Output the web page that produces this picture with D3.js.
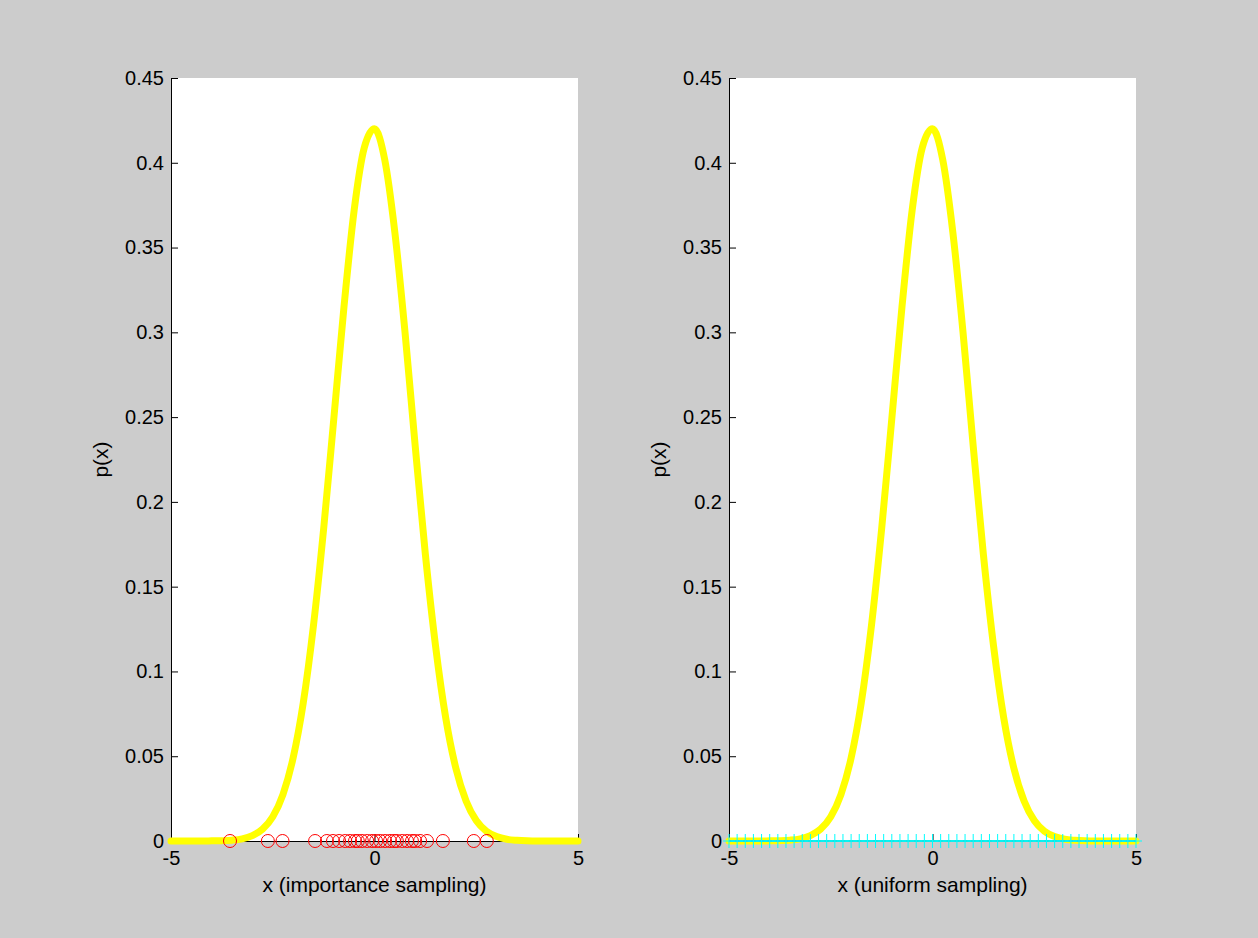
<!DOCTYPE html>
<html>
<head>
<meta charset="utf-8">
<script src="https://cdn.jsdelivr.net/npm/d3@7"></script>
<style>
  body { margin: 0; background: #cccccc; }
  text { font-family: "Liberation Sans", Arial, sans-serif; font-size: 20px; fill: #000; }
  .label { font-size: 21px; }
</style>
</head>
<body>
<div class="chart-area"></div>
<script>
// density curve
var curveX = [-5, -4.75, -4.5, -4.25, -4, -3.75, -3.5, -3.25, -3, -2.75, -2.5, -2.25, -2, -1.75, -1.5, -1.25, -1, -0.75, -0.5, -0.25,
              0, 0.25, 0.5, 0.75, 1, 1.25, 1.5, 1.75, 2, 2.25, 2.5, 2.75, 3, 3.25, 3.5, 3.75, 4, 4.25, 4.5, 4.75, 5];
var curveP = [0, 0, 0, 0, 0.0001, 0.0002, 0.0005, 0.0013, 0.0032, 0.0070, 0.0143, 0.0274, 0.0489, 0.0815, 0.127, 0.184, 0.249, 0.315, 0.372, 0.409,
              0.420, 0.402, 0.359, 0.300, 0.233, 0.169, 0.115, 0.0726, 0.0428, 0.0236, 0.0121, 0.0058, 0.0026, 0.0010, 0.0004, 0.0001, 0, 0, 0, 0, 0];

// samples
var importanceSamples = [-3.55, -2.62, -2.26, -1.46, -1.17, -1.02, -0.87, -0.72, -0.60, -0.48, -0.41, -0.31, -0.18, -0.06, 0.04,
                         0.14, 0.26, 0.38, 0.48, 0.55, 0.68, 0.80, 0.92, 1.00, 1.12, 1.29, 1.68, 2.44, 2.76];
var uniformSamples = [-5, -4.8, -4.6, -4.4, -4.2, -4, -3.8, -3.6, -3.4, -3.2, -3, -2.8, -2.6, -2.4, -2.2, -2, -1.8, -1.6, -1.4, -1.2,
                      -1, -0.8, -0.6, -0.4, -0.2, 0, 0.2, 0.4, 0.6, 0.8, 1, 1.2, 1.4, 1.6, 1.8, 2, 2.2, 2.4, 2.6, 2.8,
                      3, 3.2, 3.4, 3.6, 3.8, 4, 4.2, 4.4, 4.6, 4.8, 5];

var xTicks = [-5, 0, 5];
var yTicks = [0, 0.05, 0.1, 0.15, 0.2, 0.25, 0.3, 0.35, 0.4, 0.45];
var xLabels = ["x (importance sampling)", "x (uniform sampling)"];
var yLabel = "p(x)";

var width = 1258,
    height = 938,
    plotTop = 78,
    plotBottom = 841,
    plotWidth = 407,
    panelLefts = [171, 729];

var svg = d3.select(".chart-area")
            .append("svg")
            .attr("width", width)
            .attr("height", height);

svg.append("rect")
   .attr("width", width)
   .attr("height", height)
   .attr("fill", "#cccccc");

var curveData = curveX.map(function(d, i) { return [d, curveP[i]] });

function drawPanel(left, xLabel, drawSamples) {
  var x = d3.scaleLinear().domain([-5, 5]).range([left, left + plotWidth]),
      y = d3.scaleLinear().domain([0, 0.45]).range([plotBottom, plotTop]),
      g = svg.append("g");

  g.append("rect")
   .attr("x", x(-5))
   .attr("y", y(0.45))
   .attr("width", x(5) - x(-5))
   .attr("height", y(0) - y(0.45))
   .attr("fill", "#fff");

  var yAxis = g.append("g")
               .attr("transform", "translate(" + x(-5) + ",0)")
               .call(d3.axisLeft(y).tickValues(yTicks).tickFormat(String)
                       .tickSize(-7).tickSizeOuter(0).tickPadding(7));
  var xAxis = g.append("g")
               .attr("transform", "translate(0," + y(0) + ")")
               .call(d3.axisBottom(x).tickValues(xTicks).tickFormat(String)
                       .tickSize(-7).tickSizeOuter(0).tickPadding(10));

  [yAxis, xAxis].forEach(function(a) {
    a.attr("font-size", null).attr("font-family", null);
    a.select(".domain").attr("stroke", "#000");
    a.selectAll(".tick line").attr("stroke", "#000");
  });

  g.append("text")
   .attr("class", "label")
   .attr("x", x(0))
   .attr("y", 892)
   .attr("text-anchor", "middle")
   .text(xLabel);

  g.append("text")
   .attr("class", "label")
   .attr("transform", "translate(" + (x(-5) - 63) + "," + ((plotTop + plotBottom) / 2) + ") rotate(-90)")
   .attr("text-anchor", "middle")
   .text(yLabel);

  var line = d3.line()
               .x(function(d) { return x(d[0]) })
               .y(function(d) { return y(d[1]) })
               .curve(d3.curveMonotoneX);

  g.append("path")
   .datum(curveData)
   .attr("d", line)
   .attr("fill", "none")
   .attr("stroke", "#ffff00")
   .attr("stroke-width", 7)
   .attr("stroke-linecap", "round")
   .attr("stroke-linejoin", "round");

  drawSamples(g, x, y);
}

drawPanel(panelLefts[0], xLabels[0], function(g, x, y) {
  g.selectAll(".imp")
   .data(importanceSamples)
   .enter()
   .append("circle")
   .attr("class", "imp")
   .attr("cx", function(d) { return x(d) })
   .attr("cy", y(0))
   .attr("r", 6.5)
   .attr("fill", "none")
   .attr("stroke", "#ff0000")
   .attr("stroke-width", 1);
});

drawPanel(panelLefts[1], xLabels[1], function(g, x, y) {
  g.append("path")
   .datum(uniformSamples)
   .attr("d", d3.line().x(function(d) { return x(d) }).y(y(0)))
   .attr("fill", "none")
   .attr("stroke", "#22cccc")
   .attr("stroke-width", 2);

  g.selectAll(".uni")
   .data(uniformSamples)
   .enter()
   .append("path")
   .attr("class", "uni")
   .attr("transform", function(d) { return "translate(" + x(d) + "," + y(0) + ")" })
   .attr("d", "M-6,0H6M0,-7V7")
   .attr("fill", "none")
   .attr("stroke", "#00ffff")
   .attr("stroke-width", 1);
});
</script>
</body>
</html>
